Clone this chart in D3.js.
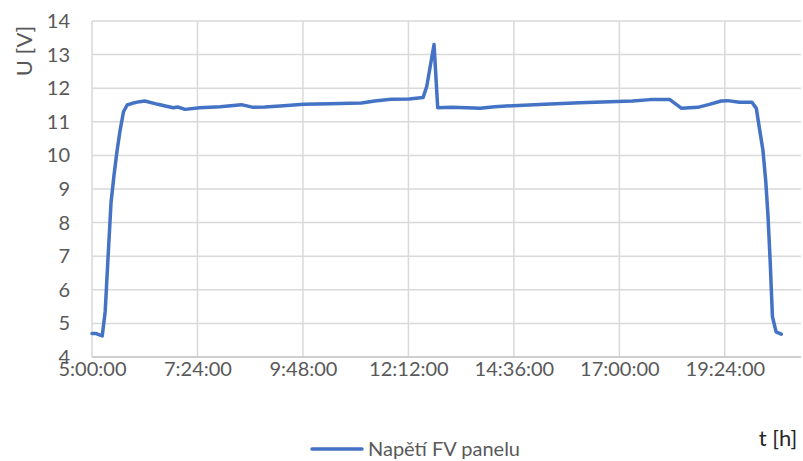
<!DOCTYPE html>
<html>
<head>
<meta charset="utf-8">
<script src="https://cdn.jsdelivr.net/npm/d3@7"></script>
<style>
  html, body { margin: 0; padding: 0; background: #fff; }
  svg { display: block; }
  text { font-family: Lato, "Open Sans", sans-serif; fill: #595959; }
</style>
</head>
<body>
<svg id="chart" width="803" height="461"></svg>
<script>
// Measured panel voltage over the day
const times = [
  "5:00","5:05","5:10","5:14","5:18","5:22","5:26","5:30","5:34","5:38","5:43","5:48",
  "5:55","6:05","6:12","6:30","6:40","6:51","6:57","7:07","7:27","7:55","8:24","8:40",
  "8:56","9:17","9:49","10:25","10:52","11:08","11:26","11:48","12:13","12:32","12:37",
  "12:47","12:52","13:11","13:32","13:50","14:10","14:35","15:18","16:06","16:47","17:18",
  "17:42","18:09","18:25","18:47","19:03","19:19","19:28","19:44","20:01","20:07","20:12",
  "20:16","20:20","20:23","20:26","20:29","20:34","20:41"
];
const voltage = [
  4.70, 4.70, 4.66, 4.63, 5.35, 7.00, 8.60, 9.40, 10.10, 10.70, 11.30, 11.50,
  11.55, 11.60, 11.62, 11.52, 11.47, 11.42, 11.44, 11.37, 11.42, 11.45, 11.51, 11.43,
  11.44, 11.47, 11.52, 11.54, 11.55, 11.56, 11.62, 11.67, 11.68, 11.72, 12.05,
  13.30, 11.42, 11.43, 11.42, 11.40, 11.45, 11.48, 11.52, 11.57, 11.60, 11.62,
  11.66, 11.66, 11.40, 11.43, 11.52, 11.62, 11.63, 11.58, 11.58, 11.40, 10.70,
  10.16, 9.20, 8.18, 6.80, 5.20, 4.75, 4.68
];
const xTicks = ["5:00:00","7:24:00","9:48:00","12:12:00","14:36:00","17:00:00","19:24:00"];
const yTicks = [4, 5, 6, 7, 8, 9, 10, 11, 12, 13, 14];
const axisStart = "5:00:00";
const axisEnd = "21:08:00";
const seriesName = "Napětí FV panelu";
const xTitle = "t [h]";
const yTitle = "U [V]";

const parseHM = d3.timeParse("%H:%M");
const parseHMS = d3.timeParse("%H:%M:%S");
const data = times.map((t, i) => ({ t: parseHM(t), v: voltage[i] }));

const svg = d3.select("#chart");
const plotLeft = 92, plotRight = 801, plotTop = 21, plotBottom = 357;

const x = d3.scaleTime()
  .domain([parseHMS(axisStart), parseHMS(axisEnd)])
  .range([plotLeft, plotRight]);
const y = d3.scaleLinear().domain([4, 14]).range([plotBottom, plotTop]);

// horizontal gridlines
svg.append("g")
  .selectAll("line")
  .data(yTicks.filter(d => d > 4))
  .join("line")
  .attr("x1", plotLeft).attr("x2", plotRight)
  .attr("y1", d => y(d)).attr("y2", d => y(d))
  .attr("stroke", "#d9d9d9").attr("stroke-width", 1.5);

// vertical gridlines
const xTickDates = xTicks.map(parseHMS);
svg.append("g")
  .selectAll("line")
  .data(xTickDates)
  .join("line")
  .attr("x1", d => x(d)).attr("x2", d => x(d))
  .attr("y1", plotTop).attr("y2", plotBottom)
  .attr("stroke", "#d9d9d9").attr("stroke-width", 1.5);

// bottom axis line
svg.append("line")
  .attr("x1", plotLeft).attr("x2", plotRight)
  .attr("y1", plotBottom).attr("y2", plotBottom)
  .attr("stroke", "#bfbfbf").attr("stroke-width", 1.5);

// y tick labels
const yAxis = svg.append("g")
  .attr("transform", `translate(${plotLeft - 22},0)`)
  .call(d3.axisLeft(y).tickValues(yTicks).tickSize(0).tickPadding(0));
yAxis.select(".domain").remove();
yAxis.selectAll("text")
  .style("font-size", "20px")
  .style("font-family", "Lato, 'Open Sans', sans-serif")
  .attr("fill", "#595959");

// x tick labels
const xAxis = svg.append("g")
  .attr("transform", `translate(0,${plotBottom + 5})`)
  .call(d3.axisBottom(x).tickValues(xTickDates)
    .tickFormat((d, i) => xTicks[i]).tickSize(0).tickPadding(0));
xAxis.select(".domain").remove();
xAxis.selectAll("text")
  .attr("dy", "0.71em")
  .style("font-size", "20px")
  .style("font-family", "Lato, 'Open Sans', sans-serif")
  .attr("fill", "#595959");

// voltage line
svg.append("path")
  .datum(data)
  .attr("fill", "none")
  .attr("stroke", "#4472C4")
  .attr("stroke-width", 3.5)
  .attr("stroke-linejoin", "round")
  .attr("stroke-linecap", "round")
  .attr("d", d3.line().x(d => x(d.t)).y(d => y(d.v)));

// axis titles
svg.append("text")
  .attr("transform", "translate(32,51) rotate(-90)")
  .attr("text-anchor", "middle")
  .style("font-size", "22px")
  .text(yTitle);

svg.append("text")
  .attr("x", 778).attr("y", 446)
  .attr("text-anchor", "middle")
  .style("font-size", "22px")
  .style("fill", "#262626")
  .text(xTitle);

// legend
svg.append("line")
  .attr("x1", 312).attr("x2", 362)
  .attr("y1", 449).attr("y2", 449)
  .attr("stroke", "#4472C4").attr("stroke-width", 3.5)
  .attr("stroke-linecap", "round");
svg.append("text")
  .attr("x", 368).attr("y", 456)
  .style("font-size", "20px")
  .text(seriesName);
</script>
</body>
</html>
